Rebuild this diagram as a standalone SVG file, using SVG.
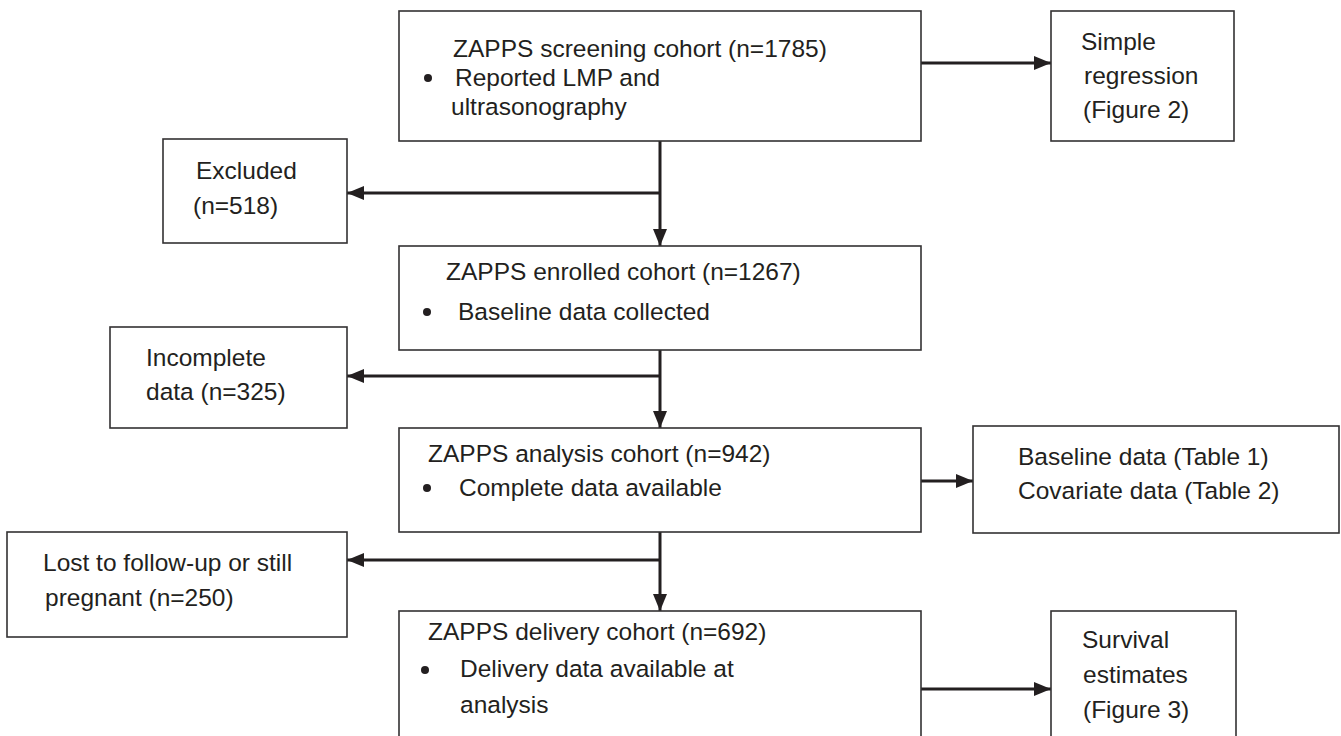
<svg xmlns="http://www.w3.org/2000/svg" width="1341" height="736" viewBox="0 0 1341 736">
<style>
.box{fill:#ffffff;stroke:#333132;stroke-width:1.6}
.t{font-family:"Liberation Sans",Arial,sans-serif;font-size:24.5px;fill:#231f20}
.c{stroke:#231f20;stroke-width:3;fill:none}
.dot{fill:#231f20}
</style>
<defs>
<marker id="ah" markerUnits="userSpaceOnUse" viewBox="0 0 17 14" markerWidth="17" markerHeight="14" refX="17" refY="7" orient="auto">
<path d="M0,0 L17,7 L0,14 Z" fill="#231f20"/>
</marker>
</defs>
<rect width="1341" height="736" fill="#ffffff"/>
<g id="connectors">
<line class="c" x1="660" y1="141" x2="660" y2="246" marker-end="url(#ah)"/>
<line class="c" x1="660" y1="193" x2="347" y2="193" marker-end="url(#ah)"/>
<line class="c" x1="921" y1="63" x2="1051" y2="63" marker-end="url(#ah)"/>
<line class="c" x1="660" y1="350" x2="660" y2="428" marker-end="url(#ah)"/>
<line class="c" x1="660" y1="376" x2="347" y2="376" marker-end="url(#ah)"/>
<line class="c" x1="921" y1="481" x2="973" y2="481" marker-end="url(#ah)"/>
<line class="c" x1="660" y1="532" x2="660" y2="611" marker-end="url(#ah)"/>
<line class="c" x1="660" y1="560" x2="347" y2="560" marker-end="url(#ah)"/>
<line class="c" x1="921" y1="689" x2="1051" y2="689" marker-end="url(#ah)"/>
</g>
<g id="screening">
<rect class="box" x="399" y="11" width="522" height="130"/>
<text class="t" x="453" y="57">ZAPPS screening cohort (n=1785)</text>
<circle class="dot" cx="428" cy="78" r="4"/>
<text class="t" x="455" y="86">Reported LMP and</text>
<text class="t" x="451" y="115">ultrasonography</text>
</g>
<g id="simple-regression">
<rect class="box" x="1051" y="11" width="183" height="130"/>
<text class="t" x="1081" y="50">Simple</text>
<text class="t" x="1084" y="84">regression</text>
<text class="t" x="1083" y="118">(Figure 2)</text>
</g>
<g id="excluded">
<rect class="box" x="163" y="139" width="184" height="104"/>
<text class="t" x="196" y="179">Excluded</text>
<text class="t" x="193" y="214">(n=518)</text>
</g>
<g id="enrolled">
<rect class="box" x="399" y="246" width="522" height="104"/>
<text class="t" x="446" y="280">ZAPPS enrolled cohort (n=1267)</text>
<circle class="dot" cx="427" cy="312" r="4"/>
<text class="t" x="458" y="320">Baseline data collected</text>
</g>
<g id="incomplete">
<rect class="box" x="110" y="327" width="237" height="101"/>
<text class="t" x="146" y="366">Incomplete</text>
<text class="t" x="146" y="400">data (n=325)</text>
</g>
<g id="analysis">
<rect class="box" x="399" y="428" width="522" height="104"/>
<text class="t" x="428" y="462">ZAPPS analysis cohort (n=942)</text>
<circle class="dot" cx="427" cy="488" r="4"/>
<text class="t" x="459" y="496">Complete data available</text>
</g>
<g id="baseline-covariate">
<rect class="box" x="973" y="426" width="366" height="107"/>
<text class="t" x="1018" y="465">Baseline data (Table 1)</text>
<text class="t" x="1018" y="499">Covariate data (Table 2)</text>
</g>
<g id="lost">
<rect class="box" x="7" y="532" width="340" height="105"/>
<text class="t" x="43" y="571">Lost to follow-up or still</text>
<text class="t" x="45" y="606">pregnant (n=250)</text>
</g>
<g id="delivery">
<rect class="box" x="399" y="611" width="522" height="140"/>
<text class="t" x="428" y="640">ZAPPS delivery cohort (n=692)</text>
<circle class="dot" cx="425" cy="670" r="4"/>
<text class="t" x="460" y="677">Delivery data available at</text>
<text class="t" x="460" y="713">analysis</text>
</g>
<g id="survival">
<rect class="box" x="1051" y="611" width="185" height="140"/>
<text class="t" x="1082" y="648">Survival</text>
<text class="t" x="1083" y="683">estimates</text>
<text class="t" x="1083" y="718">(Figure 3)</text>
</g>
</svg>
